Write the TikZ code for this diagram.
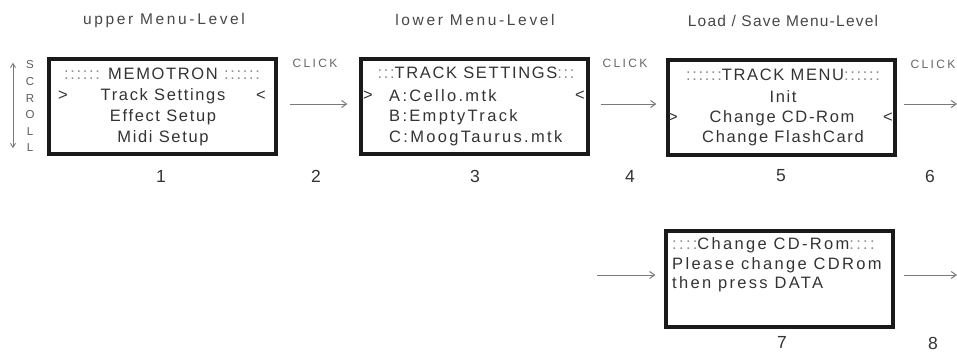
\documentclass[tikz,border=0pt]{standalone}
\usepackage{fontspec}
\setmainfont{Liberation Sans}
\newfontfamily\lcdfont{Liberation Sans}[LetterSpace=10]
\newfontfamily\lcdwfont{Liberation Sans}[LetterSpace=14]
\newfontfamily\ttlfont{Liberation Sans}[LetterSpace=17]
\newfontfamily\ttlbfont{Liberation Sans}[LetterSpace=8]
\newfontfamily\clkfont{Liberation Sans}[LetterSpace=20]
\usetikzlibrary{arrows.meta}
\definecolor{txt}{HTML}{333333}
\definecolor{dots}{HTML}{8C8C8C}
\definecolor{arrc}{HTML}{7A7A7A}
\definecolor{frame}{HTML}{1A1A1A}
\begin{document}
\begin{tikzpicture}[x=1pt,y=-1pt,
  lcd/.style={inner sep=0pt, text=txt, font=\lcdfont\fontsize{16.5}{19}\selectfont},
  lcdl/.style={inner sep=0pt, text=txt, anchor=west, font=\lcdwfont\fontsize{16.5}{19}\selectfont},
  lcdbox/.style={draw=frame, line width=3.2pt, minimum width=227pt, minimum height=95pt, inner sep=0pt},
  ttl/.style={inner sep=0pt, text=txt!90, font=\ttlfont\fontsize{15.5}{18}\selectfont},
  clk/.style={inner sep=0pt, text=txt!75, font=\clkfont\fontsize{12}{14}\selectfont},
  num/.style={inner sep=0pt, text=txt, font=\fontsize{17.5}{20}\selectfont},
  arr/.style={draw=arrc, line width=1pt, -{Straight Barb[length=5pt,width=7pt]}},
  scr/.style={inner sep=0pt, text=txt!80, font=\fontsize{11.5}{13}\selectfont}
]
\useasboundingbox (0,0) rectangle (957,354);
\newcommand{\dd}[1]{{\color{dots}#1}}

% titles
\node[ttl] (t1) at (164,20) {upper Menu-Level};
\node[ttl] (t2) at (475,20) {lower Menu-Level};
\node[ttl, font=\ttlbfont\fontsize{15.5}{18}\selectfont] (t3) at (783,21) {Load / Save Menu-Level};

% boxes
\node[lcdbox] (b1) at (162.5,106.5) {};
\node[lcdbox] (b2) at (474.5,106.5) {};
\node[lcdbox] (b3) at (781.5,107.5) {};
\node[lcdbox, minimum height=96pt] (b4) at (779.5,279) {};

% box 1
\node[lcd] (b1h) at (162,74) {\dd{::::::} MEMOTRON \dd{::::::}};
\node[lcd] (b1gt) at (63,96) {>};
\node[lcd] (b1a) at (163,96) {Track Settings};
\node[lcd] (b1lt) at (261,96) {<};
\node[lcd] (b1b) at (163,117) {Effect Setup};
\node[lcd] (b1c) at (163,138) {Midi Setup};

% box 2
\node[lcd] (b2h) at (476,73) {\dd{:::}TRACK SETTINGS\dd{:::}};
\node[lcd] (b2gt) at (368,96) {>};
\node[lcdl] (b2a) at (389,96) {A:Cello.mtk};
\node[lcd] (b2lt) at (580,96) {<};
\node[lcdl] (b2b) at (389,117) {B:EmptyTrack};
\node[lcdl] (b2c) at (389,138) {C:MoogTaurus.mtk};

% box 3
\node[lcd] (b3h) at (783,75) {\dd{::::::}TRACK MENU\dd{::::::}};
\node[lcd] (b3a) at (783,97) {Init};
\node[lcd] (b3gt) at (673,118) {>};
\node[lcd] (b3b) at (782,118) {Change CD-Rom};
\node[lcd] (b3lt) at (888,118) {<};
\node[lcd] (b3c) at (783,138) {Change FlashCard};

% box 4
\node[lcdl] (b4h) at (672,245) {\dd{::::}Change CD-Rom\dd{::::}};
\node[lcdl] (b4a) at (672,265) {Please change CDRom};
\node[lcdl] (b4b) at (672,284) {then press DATA};

% click labels
\node[clk] (c1) at (315,63) {CLICK};
\node[clk] (c2) at (625,63) {CLICK};
\node[clk] (c3) at (933,64) {CLICK};

% numbers
\node[num] (n1) at (161,176) {1};
\node[num] (n2) at (316,176) {2};
\node[num] (n3) at (475,176) {3};
\node[num] (n4) at (630,176) {4};
\node[num] (n5) at (781,176) {5};
\node[num] (n6) at (930,176) {6};
\node[num] (n7) at (782,342) {7};
\node[num] (n8) at (933,343) {8};

% arrows
\coordinate (e1) at (957,104);
\coordinate (s4) at (597,275);
\coordinate (e2) at (957,275);
\draw[arr, shorten <=12pt, shorten >=12pt] ([yshift=2.5pt]b1.east) -- ([yshift=2.5pt]b2.west);
\draw[arr, shorten <=11pt, shorten >=10pt] ([yshift=2.5pt]b2.east) -- ([yshift=3.5pt]b3.west);
\draw[arr, shorten <=7pt] ([yshift=3.5pt]b3.east) -- (e1);
\draw[arr, shorten >=9pt] (s4) -- ([yshift=4pt]b4.west);
\draw[arr, shorten <=9pt] ([yshift=4pt]b4.east) -- (e2);

% scroll
\foreach \l [count=\i] in {S,C,R,O,L,L}
  \node[scr] (sc\i) at (30,{65+(\i-1)*16.6}) {\l};
\draw[draw=arrc, line width=0.9pt, {Straight Barb[length=4pt,width=5pt]}-{Straight Barb[length=4pt,width=5pt]}] ([yshift=-2pt]sc1.north -| 13,0) -- ([yshift=4pt]sc6.south -| 13,0);
\end{tikzpicture}
\end{document}
